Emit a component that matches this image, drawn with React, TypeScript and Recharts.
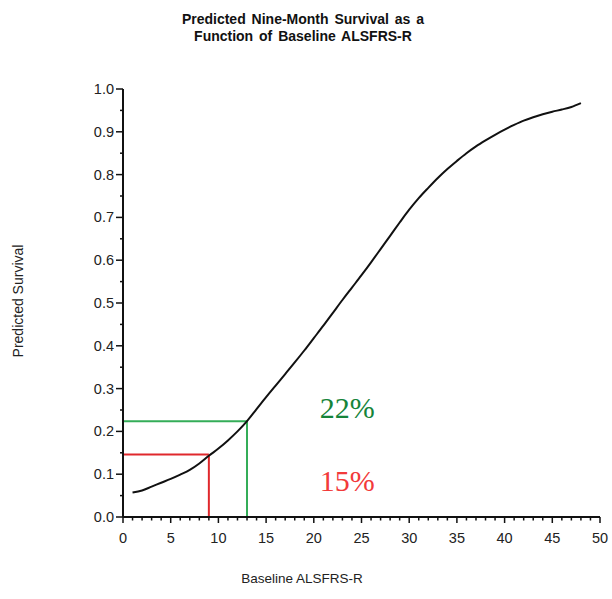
import React from "react";
import { LineChart, Line, XAxis, YAxis, ReferenceLine, ReferenceDot } from "recharts";

const baselineScores = [1, 2, 3, 4, 5, 6, 7, 8, 9, 10, 11, 12, 13, 14, 15, 16, 17, 18, 19, 20, 21, 22, 23, 24, 25, 26, 27, 28, 29, 30, 31, 32, 33, 34, 35, 36, 37, 38, 39, 40, 41, 42, 43, 44, 45, 46, 47, 48];
const predictedSurvival = [0.057, 0.062, 0.071, 0.080, 0.089, 0.099, 0.110, 0.125, 0.143, 0.160, 0.179, 0.200, 0.224, 0.252, 0.280, 0.307, 0.334, 0.361, 0.389, 0.418, 0.447, 0.477, 0.507, 0.536, 0.565, 0.595, 0.626, 0.657, 0.688, 0.718, 0.745, 0.769, 0.792, 0.813, 0.832, 0.850, 0.866, 0.880, 0.893, 0.905, 0.916, 0.926, 0.934, 0.941, 0.947, 0.952, 0.958, 0.967];

const xTicks = [0, 1, 2, 3, 4, 5, 6, 7, 8, 9, 10, 11, 12, 13, 14, 15, 16, 17, 18, 19, 20, 21, 22, 23, 24, 25, 26, 27, 28, 29, 30, 31, 32, 33, 34, 35, 36, 37, 38, 39, 40, 41, 42, 43, 44, 45, 46, 47, 48, 49, 50];
const yTicks = [0, 0.05, 0.1, 0.15, 0.2, 0.25, 0.3, 0.35, 0.4, 0.45, 0.5, 0.55, 0.6, 0.65, 0.7, 0.75, 0.8, 0.85, 0.9, 0.95, 1.0];

const redMarker = { x: 9, y: 0.146, label: "15%" };
const greenMarker = { x: 13, y: 0.224, label: "22%" };
const redLabelPos = { x: 23.5, y: 0.086 };
const greenLabelPos = { x: 23.5, y: 0.257 };

const data = baselineScores.map((s, i) => ({ score: s, survival: predictedSurvival[i] }));

const tickFont = "Liberation Sans, Arial, sans-serif";

const YTick = (props: any) => {
  const { x, y, payload } = props;
  const v = payload.value as number;
  const major = Math.abs(v * 10 - Math.round(v * 10)) < 1e-6;
  return (
    <g>
      <line x1={x} x2={x - (major ? 7 : 3)} y1={y} y2={y} stroke="#111" strokeWidth={1.5} />
      {major && (
        <text x={x - 9} y={y} textAnchor="end" dominantBaseline="central" fontSize={14.5} fontFamily={tickFont} fill="#222">
          {v.toFixed(1)}
        </text>
      )}
    </g>
  );
};

const XTick = (props: any) => {
  const { x, y, payload } = props;
  const v = payload.value as number;
  const major = v % 5 === 0;
  return (
    <g>
      <line x1={x} x2={x} y1={y} y2={y + (major ? 6 : 3.5)} stroke="#111" strokeWidth={1.5} />
      {major && (
        <text x={x} y={y + 26} textAnchor="middle" fontSize={14.5} fontFamily={tickFont} fill="#222">
          {v}
        </text>
      )}
    </g>
  );
};

export default function App() {
  return (
    <div style={{ position: "absolute", left: 0, top: 0, width: 612, height: 599, background: "#fff" }}>
      <div
        style={{
          position: "absolute",
          left: 0,
          width: 606,
          top: 11,
          textAlign: "center",
          fontFamily: tickFont,
          fontWeight: "bold",
          fontSize: 14,
          lineHeight: "17px",
          wordSpacing: 2,
          color: "#111",
        }}
      >
        <div>Predicted Nine-Month Survival as a</div>
        <div>Function of Baseline ALSFRS-R</div>
      </div>
      <div
        style={{
          position: "absolute",
          left: 18 - 100,
          top: 301 - 9,
          width: 200,
          height: 18,
          lineHeight: "18px",
          textAlign: "center",
          transform: "rotate(-90deg)",
          fontFamily: tickFont,
          fontSize: 14,
          color: "#222",
        }}
      >
        Predicted Survival
      </div>
      <div
        style={{
          position: "absolute",
          left: 302 - 100,
          top: 579 - 9,
          width: 200,
          height: 18,
          lineHeight: "18px",
          textAlign: "center",
          fontFamily: tickFont,
          fontSize: 13.5,
          color: "#222",
        }}
      >
        Baseline ALSFRS-R
      </div>
      <div style={{ position: "absolute", left: 0, top: 0 }}>
        <LineChart width={612} height={599} data={data} margin={{ top: 89, right: 12, bottom: 52, left: 63 }}>
          <XAxis
            dataKey="score"
            type="number"
            domain={[0, 50]}
            ticks={xTicks}
            interval={0}
            tickSize={0}
            tickMargin={0}
            tickLine={false}
            tick={<XTick />}
            axisLine={{ stroke: "#111", strokeWidth: 2 }}
            height={30}
            allowDataOverflow
          />
          <YAxis
            type="number"
            domain={[0, 1]}
            ticks={yTicks}
            interval={0}
            tickSize={0}
            tickMargin={0}
            tickLine={false}
            tick={<YTick />}
            axisLine={{ stroke: "#111", strokeWidth: 2 }}
            width={60}
            allowDataOverflow
          />
          <ReferenceLine
            segment={[{ x: 0, y: redMarker.y }, { x: redMarker.x, y: redMarker.y }]}
            stroke="#e0282c"
            strokeWidth={2}
            ifOverflow="visible"
          />
          <ReferenceLine
            segment={[{ x: redMarker.x, y: 0 }, { x: redMarker.x, y: redMarker.y }]}
            stroke="#e0282c"
            strokeWidth={2}
            ifOverflow="visible"
          />
          <ReferenceLine
            segment={[{ x: 0, y: greenMarker.y }, { x: greenMarker.x, y: greenMarker.y }]}
            stroke="#34ad58"
            strokeWidth={2}
            ifOverflow="visible"
          />
          <ReferenceLine
            segment={[{ x: greenMarker.x, y: 0 }, { x: greenMarker.x, y: greenMarker.y }]}
            stroke="#34ad58"
            strokeWidth={2}
            ifOverflow="visible"
          />
          <Line
            dataKey="survival"
            type="monotone"
            stroke="#111"
            strokeWidth={2}
            dot={false}
            isAnimationActive={false}
          />
          <ReferenceDot
            x={greenLabelPos.x}
            y={greenLabelPos.y}
            r={0}
            fill="none"
            stroke="none"
            label={{ value: greenMarker.label, position: "center", fill: "#15843a", fontSize: 30, fontFamily: "Liberation Serif, Times New Roman, serif" }}
          />
          <ReferenceDot
            x={redLabelPos.x}
            y={redLabelPos.y}
            r={0}
            fill="none"
            stroke="none"
            label={{ value: redMarker.label, position: "center", fill: "#f23a3a", fontSize: 30, fontFamily: "Liberation Serif, Times New Roman, serif" }}
          />
        </LineChart>
      </div>
    </div>
  );
}
